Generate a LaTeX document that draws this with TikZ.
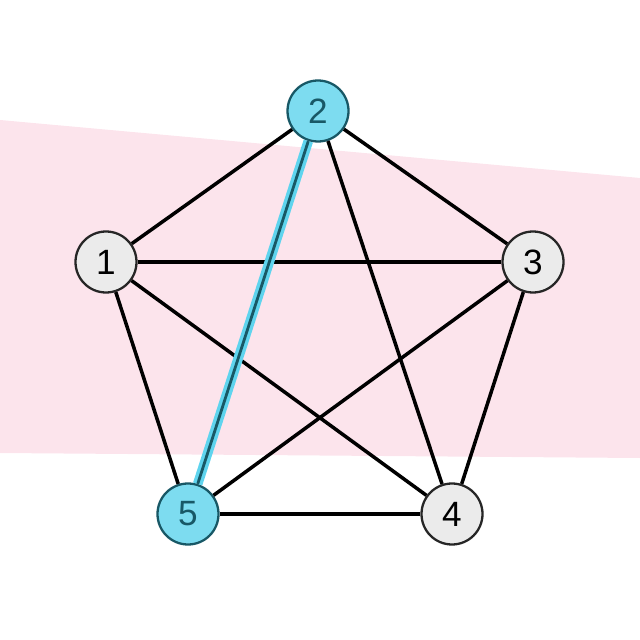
\documentclass[tikz,border=0pt]{standalone}
\usepackage{fontspec}
\setmainfont{Liberation Sans}
\usetikzlibrary{positioning}
\pgfdeclarelayer{background}
\pgfsetlayers{background,main}
\definecolor{bandpink}{RGB}{252,228,236}
\definecolor{vgray}{RGB}{235,235,235}
\definecolor{vcyan}{RGB}{125,220,240}
\definecolor{vteal}{RGB}{24,88,102}
\definecolor{glow}{RGB}{95,212,238}

\begin{document}
\begin{tikzpicture}[on grid,
  vertex/.style={circle,draw=black!85,line width=1.3pt,fill=vgray,minimum size=1.22cm,inner sep=0pt,font=\fontsize{20}{22}\selectfont},
  picked/.style={vertex,fill=vcyan,draw=vteal,text=vteal},
  link/.style={line width=2pt,black}]
   \useasboundingbox (0,0) rectangle (12.8,-12.8);
   \node[vertex] (v1) at (2.12,-5.24) {1};
   \node[picked] (v2) [above right=3.02cm and 4.24cm of v1] {2};
   \node[vertex] (v3) [right=8.54cm of v1] {3};
   \node[picked] (v5) [below right=5.04cm and 1.64cm of v1] {5};
   \node[vertex] (v4) [right=5.28cm of v5] {4};
    \path[link]
    (v1) edge (v2) edge (v3) edge (v4) edge (v5)
    (v2) edge (v3) edge (v4)
    (v3) edge (v4) edge (v5)
    (v4) edge (v5);
   \draw[glow,line width=5.5pt] (v2) -- (v5);
   \draw[vteal,line width=1.6pt] (v2) -- (v5);
   \begin{pgfonlayer}{background}
     \fill[bandpink] (0,-2.4) -- (12.8,-3.56) -- (12.8,-9.16) -- (0,-9.06) -- cycle;
   \end{pgfonlayer}
\end{tikzpicture}
\end{document}
